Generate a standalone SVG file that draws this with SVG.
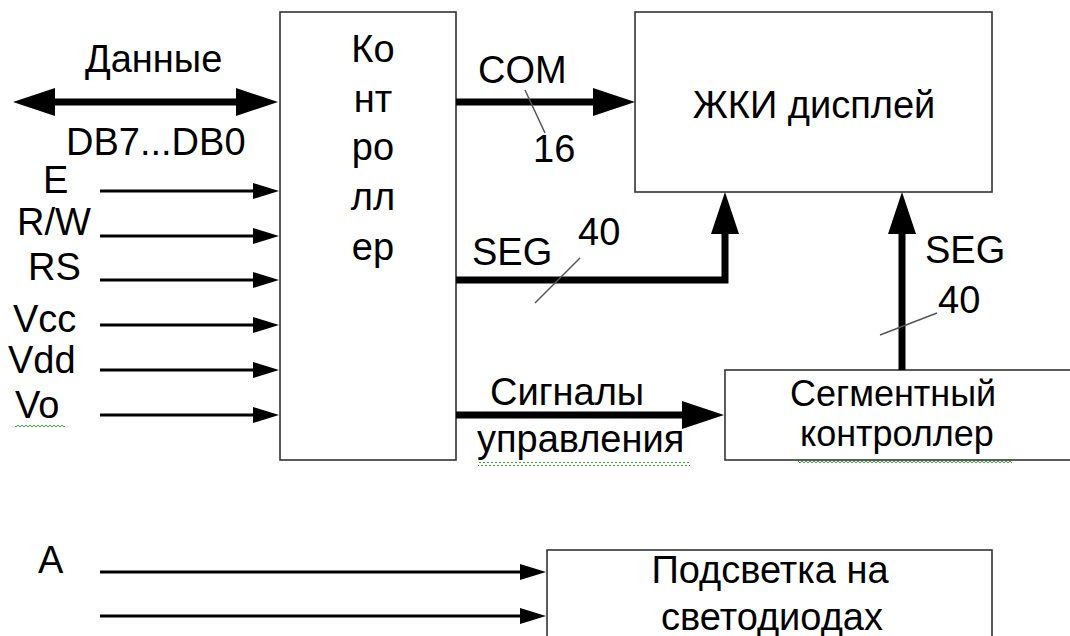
<svg xmlns="http://www.w3.org/2000/svg" width="1070" height="636" viewBox="0 0 1070 636">
<style>
text{font-family:"Liberation Sans",Arial,sans-serif;font-size:38px;fill:#000}
.box{fill:#fff;stroke:#333;stroke-width:1.6}
.thick{fill:none;stroke:#000;stroke-width:7}
.thin{fill:none;stroke:#000;stroke-width:3}
.slash{stroke:#555;stroke-width:1.5}
.c{text-anchor:middle}
.s{font-size:36px}
</style>
<defs>
<marker id="big" markerUnits="userSpaceOnUse" markerWidth="42" markerHeight="28" viewBox="0 0 42 28" refX="21" refY="14" orient="auto-start-reverse">
<path d="M0,0 L42,14 L0,28 Z" fill="#000"/>
</marker>
<marker id="small" markerUnits="userSpaceOnUse" markerWidth="26" markerHeight="16" viewBox="0 0 26 16" refX="13" refY="8" orient="auto">
<path d="M0,0 L26,8 L0,16 Z" fill="#000"/>
</marker>
<pattern id="sq" width="4" height="4" patternUnits="userSpaceOnUse">
<path d="M0,3 L2,1 L4,3" fill="none" stroke="#3a3" stroke-width="1"/>
</pattern>
</defs>
<g id="controller">
<rect class="box" x="280" y="12" width="176" height="448"/>
<text class="c" x="373" y="62">Ко</text>
<text class="c" x="373" y="112">нт</text>
<text class="c" x="373" y="160">ро</text>
<text class="c" x="373" y="210">лл</text>
<text class="c" x="373" y="260">ер</text>
</g>
<g id="lcd">
<rect class="box" x="635" y="12" width="357" height="180"/>
<text class="c" x="814" y="118">ЖКИ дисплей</text>
</g>
<g id="segctrl">
<rect class="box" x="725" y="370" width="360" height="90"/>
<text class="s" x="790" y="406">Сегментный</text>
<text class="s" x="800" y="446">контроллер</text>
<rect x="798" y="461" width="214" height="4" fill="url(#sq)"/>
</g>
<g id="backlight">
<rect class="box" x="547" y="550" width="445" height="100"/>
<text class="c" x="770" y="583">Подсветка на</text>
<text class="c" x="772" y="630">светодиодах</text>
</g>
<g id="connectors">
<path class="thick" d="M34,102 H257" marker-start="url(#big)" marker-end="url(#big)"/>
<path class="thick" d="M456,102 H614" marker-end="url(#big)"/>
<path class="thick" d="M456,280 H725 V213" marker-end="url(#big)" stroke-linejoin="miter"/>
<path class="thick" d="M902,370 V213" marker-end="url(#big)" stroke-width="6"/>
<path class="thick" d="M456,415 H703" marker-end="url(#big)"/>
<path class="thin" d="M100,191 H266" marker-end="url(#small)"/>
<path class="thin" d="M100,236 H266" marker-end="url(#small)"/>
<path class="thin" d="M100,280 H266" marker-end="url(#small)"/>
<path class="thin" d="M100,325 H266" marker-end="url(#small)"/>
<path class="thin" d="M100,370 H266" marker-end="url(#small)"/>
<path class="thin" d="M100,415 H266" marker-end="url(#small)"/>
<path class="thin" d="M100,572 H533" marker-end="url(#small)"/>
<path class="thin" d="M100,616 H533" marker-end="url(#small)"/>
<line class="slash" x1="525" y1="90" x2="545" y2="133"/>
<line class="slash" x1="535" y1="303" x2="580" y2="258"/>
<line class="slash" x1="880" y1="335" x2="937" y2="313"/>
</g>
<g id="labels">
<text x="85" y="72">Данные</text>
<text x="66" y="155">DB7...DB0</text>
<text x="43" y="193">E</text>
<text x="17" y="235">R/W</text>
<text x="28" y="280">RS</text>
<text x="13" y="332">Vcc</text>
<text x="8" y="373">Vdd</text>
<text x="15" y="418">Vo</text>
<rect x="15" y="424" width="50" height="4" fill="url(#sq)"/>
<text x="478" y="83">COM</text>
<text x="533" y="162">16</text>
<text x="472" y="265">SEG</text>
<text x="578" y="245">40</text>
<text x="925" y="263">SEG</text>
<text x="938" y="313">40</text>
<text x="490" y="405">Сигналы</text>
<text x="477" y="452">управления</text>
<rect x="478" y="462" width="212" height="4" fill="url(#sq)"/>
<text x="38" y="573">A</text>
</g>
</svg>
